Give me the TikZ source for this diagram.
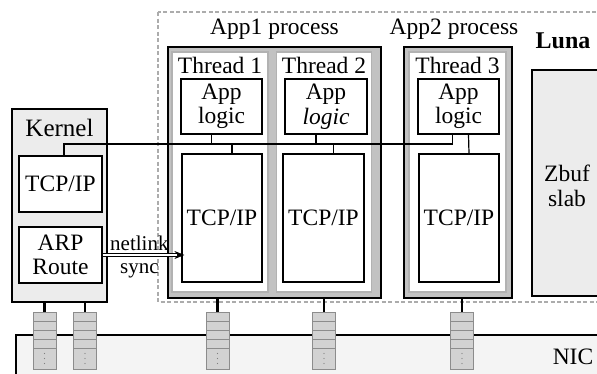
\documentclass[tikz,border=0pt]{standalone}
\usepackage{fontspec}
\setmainfont{LiberationSerif}[Extension=.ttf,UprightFont=*-Regular,BoldFont=*-Bold,ItalicFont=*-Italic]
\usetikzlibrary{arrows.meta,positioning}

\begin{document}
\begin{tikzpicture}[x=1pt,y=-1pt,>={Stealth[length=10pt,width=8pt]},node distance=0pt,
    every node/.style={font=\rmfamily\fontsize{23.5}{24.5}\selectfont,align=center},
    box/.style={draw,fill=white,line width=1.2pt,inner sep=0pt},
    proc/.style={draw,fill=gray!48,line width=2.4pt,inner sep=0pt},
    thr/.style={draw=gray!60,fill=white,line width=1.5pt,inner sep=0pt},
    lbl/.style={inner sep=0pt},
    cell/.style={draw=gray!90,fill=gray!35,line width=1pt,minimum width=23pt,
                 minimum height=9pt,inner sep=0pt,outer sep=0pt},
    link/.style={line width=1.2pt},
    stub/.style={line width=2.2pt}]
    \useasboundingbox (0,0) rectangle (597,373);

    \draw[line width=1.5pt,fill=gray!9] (16,335) rectangle (620,400);
    \node[lbl] (nic) at (573,357) {NIC};

    \draw[gray!65,line width=1.2pt,dash pattern=on 4pt off 2.5pt] (158,12) rectangle (620,302);
    \node[lbl,font=\rmfamily\bfseries\fontsize{24}{25}\selectfont] (luna) at (563,41) {Luna};
    \node[draw,fill=gray!15,line width=1.5pt,minimum width=80pt,minimum height=226pt,
          inner sep=0pt] (zbuf) at (572,183) {};
    \node[lbl] at (567,186) {Zbuf\\slab};

    \node[draw,fill=gray!15,line width=2pt,minimum width=95pt,minimum height=193pt] (kernel) at (59.5,205.5) {};
    \node[lbl,font=\rmfamily\fontsize{25}{26}\selectfont,below=11pt of kernel.north] {Kernel};
    \node[box,minimum width=83pt,minimum height=56pt] (ktcp) at (60.5,184) {TCP/IP};
    \node[box,minimum width=83pt,minimum height=56pt] (arp)  at (60.5,255) {ARP\\Route};

    \node[proc,minimum width=213pt,minimum height=251pt] (app1) at (274.5,172.5) {};
    \node[proc,minimum width=108pt,minimum height=251pt] (app2) at (458,172.5) {};
    \node[lbl,above=6pt of app1.north] {App1 process};
    \node[lbl,above=6pt of app2.north,xshift=-4pt] {App2 process};

    \node[thr,minimum width=96pt,minimum height=240pt] (th1) at (220,172) {};
    \node[thr,minimum width=95pt,minimum height=240pt] (th2) at (324,172) {};
    \node[thr,minimum width=97pt,minimum height=240pt] (th3) at (457.5,172) {};
    \node[lbl,below=6pt of th1.north] {Thread 1};
    \node[lbl,below=6pt of th2.north] {Thread 2};
    \node[lbl,below=6pt of th3.north] {Thread 3};

    \node[box,minimum width=81pt,minimum height=55pt] (logic1) at (221.5,106.5) {App\\logic};
    \node[box,minimum width=82pt,minimum height=55pt] (logic2) at (326,106.5) {App\\\textit{logic}};
    \node[box,minimum width=81pt,minimum height=55pt] (logic3) at (458.5,106.5) {App\\logic};
    \node[box,minimum width=80pt,minimum height=128pt] (tcp1) at (222,218) {TCP/IP};
    \node[box,minimum width=81pt,minimum height=128pt] (tcp2) at (323.5,218) {TCP/IP};
    \node[box,minimum width=80pt,minimum height=128pt] (tcp3) at (459,218) {TCP/IP};

    \coordinate (bus) at (0,144);
    \coordinate (b0) at ([xshift=3.5pt]ktcp.north);
    \coordinate (b3) at ([xshift=-6pt]logic3.south);
    \draw[link] (b0) |- (b3 |- bus) -- (b3);
    \foreach \n in {1,2} {
        \draw[link] ([xshift=-10pt]logic\n.south) -- ++(0,10);
        \draw[link] ([xshift=10pt]tcp\n.north) -- ++(0,-10);
    }
    \draw[link] ([xshift=10pt]logic3.south) -- ([xshift=10pt]tcp3.north);

    \draw[->,double,double distance=2pt,line width=0.7pt] (arp.east) -- ([xshift=3pt]arp.east -| tcp1.west)
        node[lbl,pos=0.45,above=4pt,font=\rmfamily\fontsize{21}{22}\selectfont] {netlink}
        node[lbl,pos=0.45,below=8pt,font=\rmfamily\fontsize{21}{22}\selectfont] {sync};

    \foreach \n/\x in {1/44.5,2/85,3/217.5,4/324,5/462} {
        \node[cell] (q\n) at (\x,316.5) {};
        \node[cell,below=of q\n] (q\n b) {};
        \node[cell,below=of q\n b] (q\n c) {};
        \node[cell,below=of q\n c] (q\n d) {};
        \node[cell,minimum height=21pt,below=of q\n d] (q\n e) {};
        \foreach \d in {-5,0,5} \fill[gray] ([yshift=\d pt]q\n e.center) circle (0.6pt);
    }
    \foreach \n in {1,2} \draw[stub] (kernel.south -| q\n.north) -- (q\n.north);
    \draw[stub] (app1.south -| q3.north) -- (q3.north);
    \draw[stub] (app1.south -| q4.north) -- (q4.north);
    \draw[stub] (app2.south -| q5.north) -- (q5.north);
\end{tikzpicture}
\end{document}
